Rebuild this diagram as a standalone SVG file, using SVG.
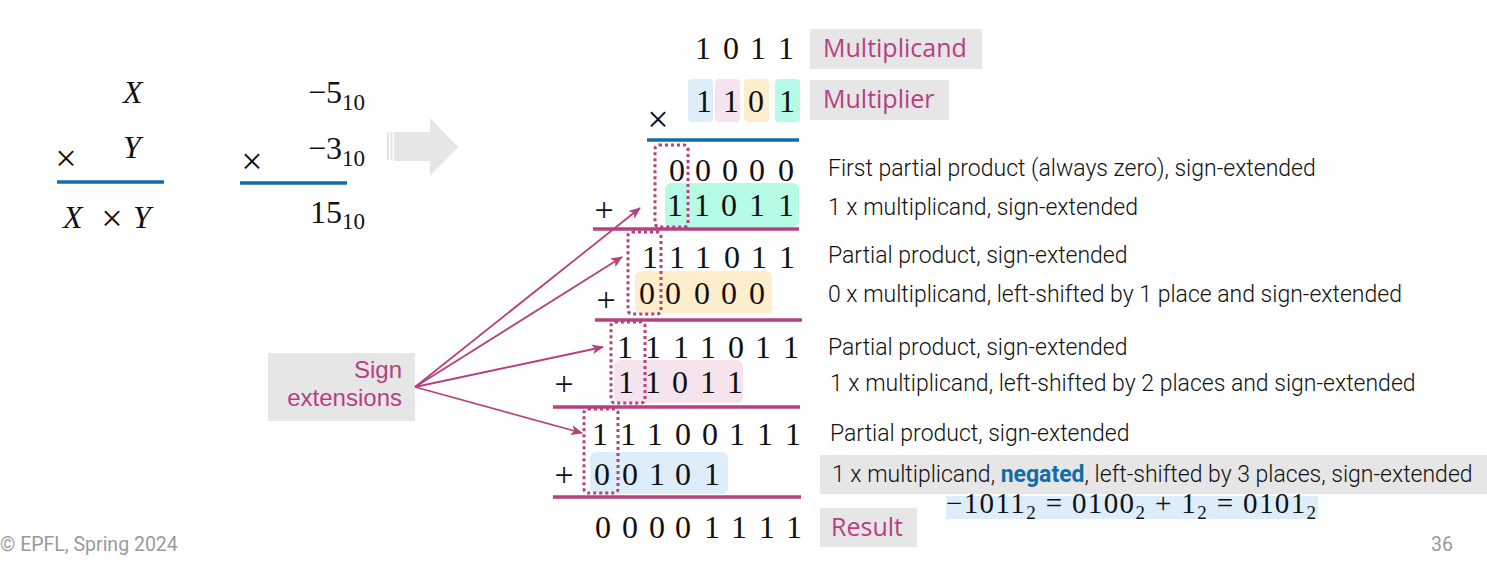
<svg xmlns="http://www.w3.org/2000/svg" width="1487" height="578" viewBox="0 0 1487 578">
<defs>
<style>
.m{font-family:"Liberation Serif",serif;font-size:32px;fill:#111;text-anchor:middle}
.mi{font-family:"Liberation Serif",serif;font-size:32px;font-style:italic;fill:#111}
.ms{font-family:"Liberation Serif",serif;font-size:32px;fill:#111}
.sub{font-family:"Liberation Serif",serif;font-size:23px;fill:#111}
.op{font-family:"Liberation Serif",serif;font-size:34px;fill:#111;text-anchor:middle}
.x{font-family:"Liberation Serif",serif;font-size:38px;fill:#111;text-anchor:middle}
.lbl{font-family:Roboto,"Liberation Sans",sans-serif;font-weight:300;font-size:23px;fill:#111}
.hw{font-family:"Open Sans","Liberation Sans",sans-serif;font-size:25px;fill:#b5417f}
.hw2{font-family:"Liberation Sans",sans-serif;font-size:24px;fill:#b5417f;text-anchor:end}
.tag{fill:#e6e6e6}
.bl{stroke:#106daa;stroke-width:3.5}
.pl{stroke:#b5417f;stroke-width:3.5}
.dot{fill:none;stroke:#b5417f;stroke-width:3;stroke-dasharray:3 3}
.arr{stroke:#b5417f;stroke-width:1.8;fill:none;marker-end:url(#ah)}
.ft{font-family:Roboto,"Liberation Sans",sans-serif;font-size:19.5px;fill:#9a9a9a}
</style>
<marker id="ah" viewBox="0 0 12 10" refX="11" refY="5" markerWidth="12" markerHeight="10" markerUnits="userSpaceOnUse" orient="auto">
<path d="M0,0 L12,5 L0,10 L3,5 Z" fill="#b5417f"/>
</marker>
</defs>
<rect width="1487" height="578" fill="#fff"/>

<g id="generic">
<text class="mi" x="123" y="103">X</text>
<text class="x" x="66" y="171">×</text>
<text class="mi" x="123" y="158">Y</text>
<line class="bl" x1="57" y1="182" x2="164" y2="182"/>
<text class="mi" x="63" y="228">X</text>
<text class="x" x="112" y="231">×</text>
<text class="mi" x="133" y="228">Y</text>
</g>

<g id="decimal">
<text class="ms" x="342" y="103" text-anchor="end">−5</text>
<text class="sub" x="342" y="110">10</text>
<text class="x" x="252" y="174">×</text>
<text class="ms" x="342" y="159" text-anchor="end">−3</text>
<text class="sub" x="342" y="166">10</text>
<line class="bl" x1="240" y1="183" x2="347" y2="183"/>
<text class="ms" x="342" y="223" text-anchor="end">15</text>
<text class="sub" x="342" y="229">10</text>
</g>

<g id="bigarrow" fill="#e6e6e6">
<rect x="387" y="132" width="2" height="28"/>
<rect x="390.5" y="132" width="2" height="28"/>
<polygon points="394,132 430,132 430,118 458,147 430,176 430,161 394,161"/>
</g>

<g id="multiplicand">
<text class="m" x="703 731 758 786" y="59">1011</text>
<rect class="tag" x="810" y="29" width="172" height="40"/>
<text class="hw" x="823" y="57">Multiplicand</text>
</g>

<g id="multiplier">
<rect x="688" y="79" width="25" height="43" rx="4" fill="#ddeefa"/>
<rect x="715" y="79" width="25" height="43" rx="4" fill="#f5e4ee"/>
<rect x="744" y="79" width="25" height="43" rx="4" fill="#ffeecc"/>
<rect x="775" y="79" width="25" height="43" rx="4" fill="#b6fbe6"/>
<text class="m" x="704 731 756 787" y="112">1101</text>
<rect class="tag" x="810" y="80" width="139" height="40"/>
<text class="hw" x="823" y="108">Multiplier</text>
<text class="x" x="658" y="132">×</text>
<line class="bl" x1="647" y1="140" x2="799" y2="140"/>
</g>

<g id="step1">
<rect x="665" y="183" width="134" height="44" rx="6" fill="#b6fbe6"/>
<text class="m" x="677 703 730 757 786" y="181">00000</text>
<text class="op" x="604" y="221">+</text>
<text class="m" x="675 702 729 757 786" y="216">11011</text>
<rect class="dot" x="655" y="145" width="33" height="82" rx="4"/>
<line class="pl" x1="593" y1="229" x2="799" y2="229"/>
<text class="lbl" x="828" y="176">First partial product (always zero), sign-extended</text>
<text class="lbl" x="828" y="215">1 x multiplicand, sign-extended</text>
</g>

<g id="step2">
<rect x="635" y="271" width="137" height="43" rx="6" fill="#ffeecc"/>
<text class="m" x="650 677 703 732 759 787" y="268">111011</text>
<text class="op" x="606" y="311">+</text>
<text class="m" x="647 673 702 729 757" y="304">00000</text>
<rect class="dot" x="628" y="232" width="33" height="82" rx="4"/>
<line class="pl" x1="595" y1="320" x2="802" y2="320"/>
<text class="lbl" x="828" y="263">Partial product, sign-extended</text>
<text class="lbl" x="828" y="302">0 x multiplicand, left-shifted by 1 place and sign-extended</text>
</g>

<g id="step3">
<rect x="614" y="360" width="129" height="43" rx="6" fill="#f5e4ee"/>
<text class="m" x="625 653 681 708 736 763 791" y="358">1111011</text>
<text class="op" x="564" y="395">+</text>
<text class="m" x="626 653 680 708 735" y="393">11011</text>
<rect class="dot" x="611" y="322" width="34" height="81" rx="4"/>
<line class="pl" x1="553" y1="407" x2="800" y2="407"/>
<text class="lbl" x="828" y="355">Partial product, sign-extended</text>
<text class="lbl" x="830" y="391">1 x multiplicand, left-shifted by 2 places and sign-extended</text>
</g>

<g id="step4">
<rect x="590" y="452" width="138" height="42" rx="6" fill="#ddeefa"/>
<text class="m" x="600 628 655 683 710 737 765 793" y="445">11100111</text>
<text class="op" x="564" y="486">+</text>
<text class="m" x="602 630 657 683 712" y="485">00101</text>
<rect class="dot" x="584" y="409" width="34" height="84" rx="4"/>
<line class="pl" x1="553" y1="497" x2="801" y2="497"/>
<text class="lbl" x="830" y="441">Partial product, sign-extended</text>
<rect class="tag" x="820" y="455" width="667" height="39"/>
<text class="lbl" x="832" y="482">1 x multiplicand, <tspan font-weight="700" fill="#106daa">negated</tspan>, left-shifted by 3 places, sign-extended</text>
</g>

<g id="negation">
<rect x="946" y="496" width="372" height="23" fill="#ddeefa"/>
<text x="946" y="513" textLength="370" lengthAdjust="spacing" style="font-family:'Liberation Serif',serif;font-size:29px;fill:#111">−1011<tspan font-size="19" dy="6">2</tspan><tspan dy="-6"> = 0100</tspan><tspan font-size="19" dy="6">2</tspan><tspan dy="-6"> + 1</tspan><tspan font-size="19" dy="6">2</tspan><tspan dy="-6"> = 0101</tspan><tspan font-size="19" dy="6">2</tspan></text>
</g>

<g id="result">
<text class="m" x="603 630 657 683 712 739 767 794" y="538">00001111</text>
<rect class="tag" x="820" y="508" width="97" height="39"/>
<text class="hw" x="831" y="536">Result</text>
</g>

<g id="signext">
<rect class="tag" x="268" y="353" width="147" height="68"/>
<text class="hw2"><tspan x="402" y="378">Sign</tspan><tspan x="402" y="406">extensions</tspan></text>
</g>

<g id="connectors">
<line class="arr" x1="415" y1="387" x2="640" y2="208"/>
<line class="arr" x1="415" y1="387" x2="622" y2="257"/>
<line class="arr" x1="415" y1="387" x2="603" y2="347"/>
<line class="arr" x1="415" y1="387" x2="582" y2="433"/>
</g>

<text class="ft" x="0" y="551">© EPFL, Spring 2024</text>
<text class="ft" x="1431" y="551">36</text>
</svg>
